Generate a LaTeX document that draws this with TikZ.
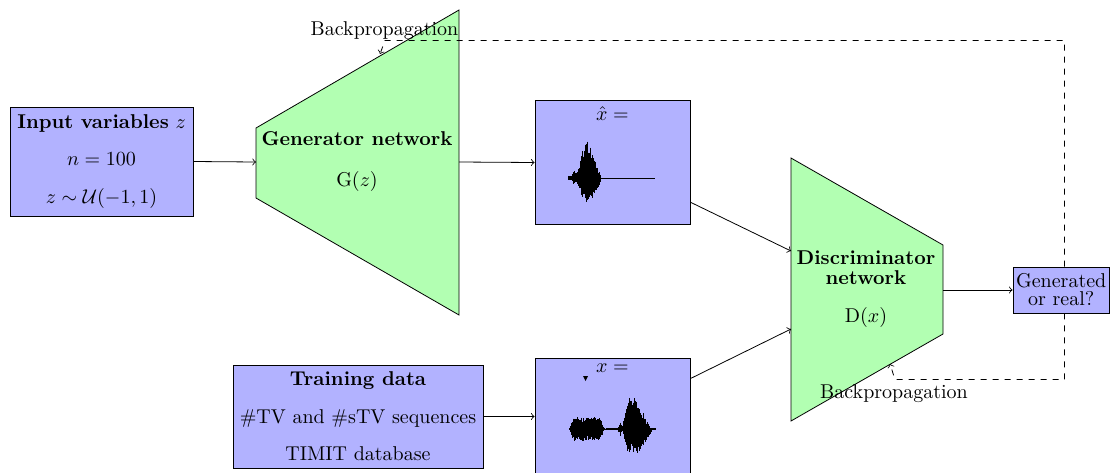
\documentclass[tikz,border=0pt]{standalone}
\usetikzlibrary{calc}
\tikzset{
  box/.style={draw, fill=blue!30, inner sep=0pt, align=center},
  net/.style={draw, fill=green!30},
  lbl/.style={inner sep=0pt, align=center},
  flow/.style={->},
  back/.style={->, dashed},
  wave/.style={line width=0.35pt},
}
\begin{document}
\begin{tikzpicture}[x=0.5pt, y=-0.5pt]
\useasboundingbox (0,0) rectangle (1110,472);

% ---- input noise ----
\node[box, minimum width=91.5pt, minimum height=54.5pt] (inp) at (101.5,161.5)
  {\textbf{Input variables} $z$\\[6.75pt] $n=100$\\[6.75pt] $z\sim\mathcal{U}(-1,1)$};

% ---- generator ----
\draw[net] (256,128) -- (459,10) -- (459,315) -- (256,198) -- cycle;
\node[lbl] (gen) at (357,162) {\textbf{Generator network}\\[8.5pt] $\mathrm{G}(z)$};
\coordinate (genin) at (256,162);
\coordinate (genout) at (459,162);
\coordinate (genback) at (380,54);

% ---- generated sample (caption sits at the top of the box) ----
\node[box, minimum width=77.5pt, minimum height=62pt] (xhat) at (612.5,162.5)
  {$\hat{x} =$\\[37.4pt]\mbox{}};

% ---- real sample ----
\node[box, minimum width=77.5pt, minimum height=62pt] (xreal) at (612.5,420)
  {$x =$\\[40.3pt]\mbox{}};
\fill (583,376) -- (588,376) -- (585.5,381) -- cycle;

% ---- training data ----
\node[box, minimum width=125pt, minimum height=51.5pt] (train) at (358,416.5)
  {\textbf{Training data}\\[6.75pt] \#TV and \#sTV sequences\\[6.75pt] TIMIT database};

% ---- discriminator ----
\draw[net] (791,158) -- (943,245) -- (943,334) -- (791,421) -- cycle;
\node[lbl] (disc) at (866,289)
  {\textbf{Discriminator}\\[-2pt]\textbf{network}\\[7pt]$\mathrm{D}(x)$};
\coordinate (discin1) at (791,251);
\coordinate (discin2) at (791,329);
\coordinate (discout) at (943,290);
\coordinate (discback) at (890,364);

% ---- decision ----
\node[box, minimum width=48.25pt, minimum height=23pt] (out) at (1061.25,290)
  {Generated\\[-3pt]or real?};

% ---- forward connections ----
\draw[flow] (inp.east) -- (genin);
\draw[flow] (genout) -- (xhat.west);
\draw[flow] (xhat.-27) -- (discin1);
\draw[flow] (xreal.28.5) -- (discin2);
\draw[flow] (train.east) -- (train.east -| xreal.west);
\draw[flow] (discout) -- (out.west);

% ---- backpropagation paths ----
\coordinate (topturn) at (385,40.5);
\coordinate (botturn) at (895,379.5);
\draw[back] ([xshift=1.625pt]out.north) |- (topturn) -- (genback);
\draw[back] ([xshift=1.625pt]out.south) |- (botturn) -- (discback);
\node[lbl] (bp1) at (384.5,30.5) {Backpropagation};
\node[lbl] (bp2) at (894,393.7) {Backpropagation};

% ---- waveform of the generated sample ----
\pgfmathsetseed{11}
\draw[wave] (568,178) -- (655,178);
\foreach \i in {0,...,64} {
  \pgfmathsetmacro{\xx}{568+\i*0.5}
  \pgfmathsetmacro{\eu}{2.5+max(0,6-abs(\xx-574)*3)+max(0,13-abs(\xx-581)*2)+max(0,37-abs(\xx-586.5)*5)+max(0,19-abs(\xx-593)*2.5)}
  \pgfmathsetmacro{\ed}{2.5+max(0,6-abs(\xx-574)*3)+max(0,13-abs(\xx-581)*2)+max(0,22-abs(\xx-587)*3)+max(0,17-abs(\xx-594)*2.5)}
  \pgfmathsetmacro{\up}{\eu*(0.55+0.45*rnd)}
  \pgfmathsetmacro{\dn}{\ed*(0.55+0.45*rnd)}
  \draw[wave] (\xx,178-\up) -- (\xx,178+\dn);
}

% ---- waveform of the real sample ----
\pgfmathsetseed{5}
\draw[wave] (569,429) -- (655,429);
\foreach \i in {0,...,172} {
  \pgfmathsetmacro{\xx}{569+\i*0.5}
  \pgfmathsetmacro{\eu}{0.8+max(0,min(11,(\xx-569)*2.5,(604-\xx)*2.5))+max(0,6-abs(\xx-620)*2.5)+max(0,min(38,(\xx-622)*5,(650-\xx)*2.2))}
  \pgfmathsetmacro{\ed}{0.8+max(0,min(11,(\xx-569)*2.5,(604-\xx)*2.5))+max(0,6-abs(\xx-620)*2.5)+max(0,min(23,(\xx-622)*4,(653-\xx)*1.6))}
  \pgfmathsetmacro{\up}{\eu*(0.55+0.45*rnd)}
  \pgfmathsetmacro{\dn}{\ed*(0.55+0.45*rnd)}
  \draw[wave] (\xx,429-\up) -- (\xx,429+\dn);
}
\end{tikzpicture}
\end{document}
